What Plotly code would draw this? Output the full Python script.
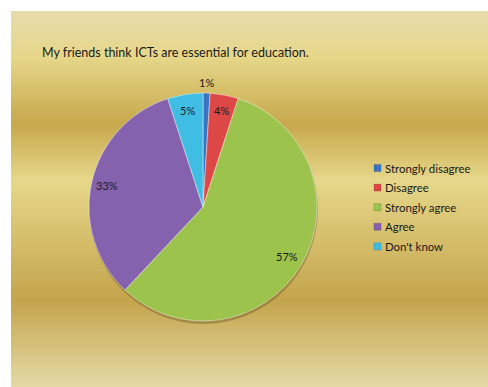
import math
import plotly.graph_objects as go

# Survey responses
categories = ["Strongly disagree", "Disagree", "Strongly agree", "Agree", "Don't know"]
percentages = [1, 4, 57, 33, 5]
slice_colors = ["#3b74c2", "#dd4847", "#9cc34b", "#8562ad", "#40bde2"]
title_text = "My friends think ICTs are essential for education."

W, H = 488, 387
FONT = "Lato, Carlito, 'Liberation Sans', sans-serif"
TEXT_COLOR = "#1a1a1a"

# Pie geometry (pixels, measured from top-left)
CX, CY, R = 203, 207, 114


def px_to_paper(x, y):
    return x / W, 1 - y / H


fig = go.Figure()
fig.add_trace(go.Pie(
    labels=categories,
    values=percentages,
    sort=False,
    direction="clockwise",
    rotation=0,
    textinfo="none",
    hoverinfo="label+percent",
    showlegend=False,
    marker=dict(colors=slice_colors, line=dict(color="rgba(255,255,255,0.55)", width=0.8)),
    domain=dict(x=[(CX - R) / W, (CX + R) / W], y=[1 - (CY + R) / H, 1 - (CY - R) / H]),
))

shapes = []

# Gold gradient panel
PX0, PY0 = 11, 11
stops = [(0.00, (230, 220, 172)), (0.12, (230, 215, 138)), (0.30, (199, 168, 76)),
         (0.45, (230, 215, 138)), (0.77, (196, 164, 76)), (1.00, (228, 218, 166))]


def grad(t):
    for (t0, c0), (t1, c1) in zip(stops[:-1], stops[1:]):
        if t0 <= t <= t1:
            f = (t - t0) / (t1 - t0)
            return tuple(round(a + (b - a) * f) for a, b in zip(c0, c1))
    return stops[-1][1]


ph = H - PY0
step = 2
for y in range(PY0, H, step):
    r, g, b = grad((y - PY0 + step / 2) / ph)
    shapes.append(dict(type="rect", xref="paper", yref="paper", layer="below",
                       x0=PX0 / W, x1=1, y0=1 - min(y + step, H) / H, y1=1 - y / H,
                       fillcolor=f"rgb({r},{g},{b})", line=dict(width=0)))

# soft drop shadow under the pie
shapes.append(dict(type="circle", xref="paper", yref="paper", layer="below",
                   x0=(CX - R) / W, x1=(CX + R + 1) / W,
                   y0=1 - (CY + R + 3) / H, y1=1 - (CY - R + 1) / H,
                   fillcolor="rgba(90,70,20,0.35)", line=dict(width=0)))

# percentage labels placed along each slice's mid-angle
annotations = []
total = sum(percentages)
cum = 0
for cat, v in zip(categories, percentages):
    mid = (cum + v / 2) / total * 2 * math.pi
    cum += v
    rf = 1.09 if v / total < 0.02 else 0.86
    lx = CX + rf * R * math.sin(mid)
    ly = CY - rf * R * math.cos(mid)
    ax, ay = px_to_paper(lx, ly)
    annotations.append(dict(x=ax, y=ay, xref="paper", yref="paper",
                            xanchor="center", yanchor="middle",
                            text=f"{v}%", showarrow=False,
                            font=dict(family=FONT, size=11, color=TEXT_COLOR)))

tx, ty = px_to_paper(40, 53)
annotations.append(dict(x=tx, y=ty, xref="paper", yref="paper",
                        xanchor="left", yanchor="middle", showarrow=False,
                        text=title_text, font=dict(family=FONT, size=12.5, color=TEXT_COLOR)))

# legend: small square swatch followed by the category name
LEG_X, LEG_Y0, LEG_DY, SW = 374, 168, 19.6, 7
for i, (cat, col) in enumerate(zip(categories, slice_colors)):
    cy = LEG_Y0 + i * LEG_DY
    x0, y0 = px_to_paper(LEG_X, cy + SW / 2)
    x1, y1 = px_to_paper(LEG_X + SW, cy - SW / 2)
    shapes.append(dict(type="rect", xref="paper", yref="paper", layer="above",
                       x0=x0, x1=x1, y0=y0, y1=y1, fillcolor=col,
                       line=dict(color="rgba(0,0,0,0.25)", width=0.6)))
    lx, ly = px_to_paper(LEG_X + SW + 1.5, cy)
    annotations.append(dict(x=lx, y=ly, xref="paper", yref="paper",
                            xanchor="left", yanchor="middle", showarrow=False,
                            text=cat, font=dict(family=FONT, size=11.4, color=TEXT_COLOR)))

fig.update_layout(
    width=W, height=H,
    margin=dict(l=0, r=0, t=0, b=0),
    paper_bgcolor="white",
    plot_bgcolor="rgba(0,0,0,0)",
    shapes=shapes,
    annotations=annotations,
    showlegend=False,
    font=dict(family=FONT),
)

fig.write_html("out.html")
